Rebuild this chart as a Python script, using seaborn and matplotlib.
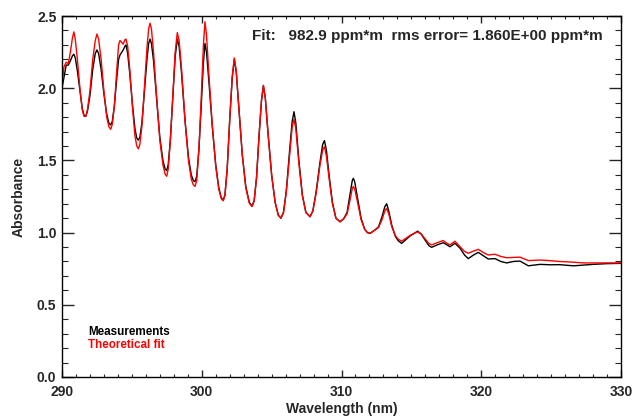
import matplotlib
matplotlib.use("Agg")
import matplotlib.pyplot as plt
from matplotlib.ticker import MultipleLocator, FormatStrFormatter
import seaborn as sns
import pandas as pd

# spectrum (wavelength in nm, absorbance)
wavelength = [
    290.00, 290.15, 290.30, 290.45, 290.60, 290.75, 290.85, 290.95, 291.10, 291.30,
    291.45, 291.58, 291.70, 291.82, 292.00, 292.20, 292.38, 292.50, 292.62, 292.80,
    293.00, 293.20, 293.35, 293.48, 293.60, 293.75, 293.90, 294.05, 294.15, 294.38,
    294.50, 294.58, 294.70, 294.85, 295.05, 295.22, 295.35, 295.46, 295.57, 295.72,
    295.90, 296.08, 296.20, 296.30, 296.40, 296.55, 296.75, 297.00, 297.22, 297.38,
    297.49, 297.60, 297.75, 297.92, 298.10, 298.25, 298.38, 298.55, 298.80, 299.05,
    299.25, 299.40, 299.52, 299.64, 299.80, 299.97, 300.12, 300.23, 300.34, 300.50,
    300.75, 301.00, 301.22, 301.40, 301.54, 301.66, 301.82, 302.00, 302.18, 302.33,
    302.47, 302.65, 302.90, 303.15, 303.40, 303.60, 303.75, 303.92, 304.10, 304.27,
    304.41, 304.55, 304.75, 305.00, 305.25, 305.48, 305.67, 305.85, 306.05, 306.28,
    306.47, 306.60, 306.73, 306.95, 307.20, 307.45, 307.75, 307.95, 308.18, 308.45,
    308.65, 308.78, 308.92, 309.12, 309.35, 309.60, 309.90, 310.15, 310.40, 310.62,
    310.77, 310.85, 310.95, 311.15, 311.40, 311.65, 311.85, 312.05, 312.35, 312.65,
    312.90, 313.10, 313.23, 313.38, 313.60, 313.85, 314.05, 314.30, 314.60, 314.90,
    315.20, 315.45, 315.70, 316.00, 316.25, 316.45, 316.85, 317.28, 317.55, 317.76,
    318.12, 318.50, 318.80, 319.07, 319.45, 319.79, 320.15, 320.50, 320.98, 321.40,
    321.82, 322.30, 322.77, 323.37, 324.20, 325.00, 325.60, 326.60, 327.30, 328.00,
    329.00, 330.00,
]
measured = [
    2.00, 2.08, 2.16, 2.16, 2.19, 2.225, 2.235, 2.21, 2.12, 1.97,
    1.86, 1.81, 1.805, 1.84, 1.95, 2.13, 2.24, 2.265, 2.24, 2.13,
    1.96, 1.82, 1.76, 1.745, 1.77, 1.88, 2.05, 2.20, 2.23, 2.265,
    2.29, 2.30, 2.24, 2.10, 1.88, 1.72, 1.655, 1.64, 1.66, 1.76,
    1.98, 2.20, 2.31, 2.34, 2.31, 2.19, 1.95, 1.66, 1.50, 1.44,
    1.43, 1.47, 1.64, 1.92, 2.22, 2.34, 2.29, 2.11, 1.78, 1.52,
    1.40, 1.36, 1.353, 1.39, 1.58, 1.89, 2.18, 2.31, 2.25, 2.06,
    1.74, 1.47, 1.31, 1.24, 1.226, 1.26, 1.44, 1.78, 2.07, 2.20,
    2.11, 1.87, 1.54, 1.32, 1.21, 1.184, 1.22, 1.38, 1.67, 1.91,
    2.017, 1.93, 1.68, 1.40, 1.21, 1.12, 1.10, 1.14, 1.29, 1.56,
    1.77, 1.837, 1.76, 1.50, 1.26, 1.14, 1.11, 1.15, 1.28, 1.48,
    1.61, 1.637, 1.57, 1.39, 1.21, 1.10, 1.075, 1.095, 1.14, 1.27,
    1.36, 1.376, 1.35, 1.24, 1.10, 1.025, 1.00, 0.995, 1.015, 1.04,
    1.11, 1.18, 1.20, 1.15, 1.05, 0.975, 0.945, 0.925, 0.95, 0.976,
    0.995, 1.01, 0.99, 0.945, 0.91, 0.898, 0.915, 0.93, 0.915, 0.902,
    0.926, 0.89, 0.845, 0.82, 0.845, 0.863, 0.84, 0.817, 0.82, 0.80,
    0.79, 0.80, 0.803, 0.77, 0.78, 0.777, 0.778, 0.77, 0.775, 0.78,
    0.785, 0.787,
]
fitted = [
    2.04, 2.15, 2.18, 2.17, 2.25, 2.35, 2.39, 2.34, 2.20, 1.98,
    1.85, 1.805, 1.805, 1.85, 1.98, 2.20, 2.33, 2.375, 2.34, 2.20,
    1.98, 1.80, 1.735, 1.715, 1.75, 1.88, 2.10, 2.30, 2.33, 2.305,
    2.335, 2.34, 2.29, 2.13, 1.86, 1.67, 1.60, 1.58, 1.61, 1.74,
    2.01, 2.28, 2.41, 2.45, 2.41, 2.25, 1.97, 1.64, 1.47, 1.405,
    1.39, 1.44, 1.63, 1.93, 2.25, 2.385, 2.33, 2.14, 1.78, 1.50,
    1.37, 1.33, 1.32, 1.36, 1.58, 1.95, 2.30, 2.46, 2.37, 2.11,
    1.75, 1.46, 1.30, 1.235, 1.22, 1.26, 1.44, 1.78, 2.08, 2.21,
    2.12, 1.87, 1.54, 1.31, 1.205, 1.18, 1.22, 1.38, 1.67, 1.91,
    2.02, 1.93, 1.68, 1.40, 1.21, 1.12, 1.10, 1.14, 1.28, 1.53,
    1.73, 1.785, 1.72, 1.48, 1.255, 1.14, 1.11, 1.15, 1.27, 1.46,
    1.57, 1.595, 1.53, 1.37, 1.20, 1.10, 1.075, 1.095, 1.13, 1.23,
    1.305, 1.32, 1.30, 1.21, 1.09, 1.025, 1.00, 0.995, 1.015, 1.035,
    1.09, 1.15, 1.168, 1.13, 1.04, 0.98, 0.955, 0.94, 0.96, 0.98,
    0.995, 1.005, 0.99, 0.955, 0.925, 0.915, 0.93, 0.945, 0.925, 0.915,
    0.94, 0.90, 0.87, 0.857, 0.872, 0.884, 0.862, 0.845, 0.85, 0.835,
    0.826, 0.828, 0.83, 0.806, 0.81, 0.805, 0.80, 0.795, 0.79, 0.79,
    0.79, 0.79,
]
fit_text = "Fit:   982.9 ppm*m  rms error= 1.860E+00 ppm*m"

df = pd.DataFrame({"wl": wavelength, "meas": measured, "fit": fitted})

sns.set_style("white")
plt.rcParams["font.family"] = ["Liberation Sans", "DejaVu Sans"]
plt.rcParams["font.weight"] = "bold"

fig = plt.figure(figsize=(6.35, 4.18), dpi=100)
ax = fig.add_axes([62 / 635, 1 - 377 / 418, 559 / 635, 361 / 418])

sns.lineplot(data=df, x="wl", y="meas", color="black", lw=1.0, ax=ax)
sns.lineplot(data=df, x="wl", y="fit", color="red", lw=1.0, ax=ax)

ax.set_xlim(290, 330)
ax.set_ylim(0, 2.5)
ax.xaxis.set_major_locator(MultipleLocator(10))
ax.xaxis.set_minor_locator(MultipleLocator(1))
ax.yaxis.set_major_locator(MultipleLocator(0.5))
ax.yaxis.set_minor_locator(MultipleLocator(0.1))
ax.yaxis.set_major_formatter(FormatStrFormatter("%.1f"))

for s in ax.spines.values():
    s.set_visible(True)
    s.set_color("black")
    s.set_linewidth(1.0)

ax.tick_params(axis="x", which="major", direction="in", length=5, width=1,
               top=True, bottom=True, labelsize=10, pad=6)
ax.tick_params(axis="x", which="minor", direction="in", length=2.5, width=0.8,
               top=True, bottom=True)
ax.tick_params(axis="y", which="major", direction="in", length=8.6, width=1,
               left=True, right=True, labelsize=10, pad=4)
ax.tick_params(axis="y", which="minor", direction="in", length=4.3, width=0.8,
               left=True, right=True)
for lab in ax.get_xticklabels() + ax.get_yticklabels():
    lab.set_fontweight("bold")

ax.set_xlabel("Wavelength (nm)", fontsize=10, fontweight="bold", labelpad=2)
ax.set_ylabel("Absorbance", fontsize=10, fontweight="bold", labelpad=8)

ax.text(0.967, 0.963, fit_text, transform=ax.transAxes, ha="right", va="top",
        fontsize=11, fontweight="bold")
ax.text(0.047, 0.126, "Measurements", transform=ax.transAxes, color="black",
        fontsize=8.4, fontweight="bold", va="center")
ax.text(0.047, 0.090, "Theoretical fit", transform=ax.transAxes, color="red",
        fontsize=8.4, fontweight="bold", va="center")

fig.savefig("out.png", dpi=100)
